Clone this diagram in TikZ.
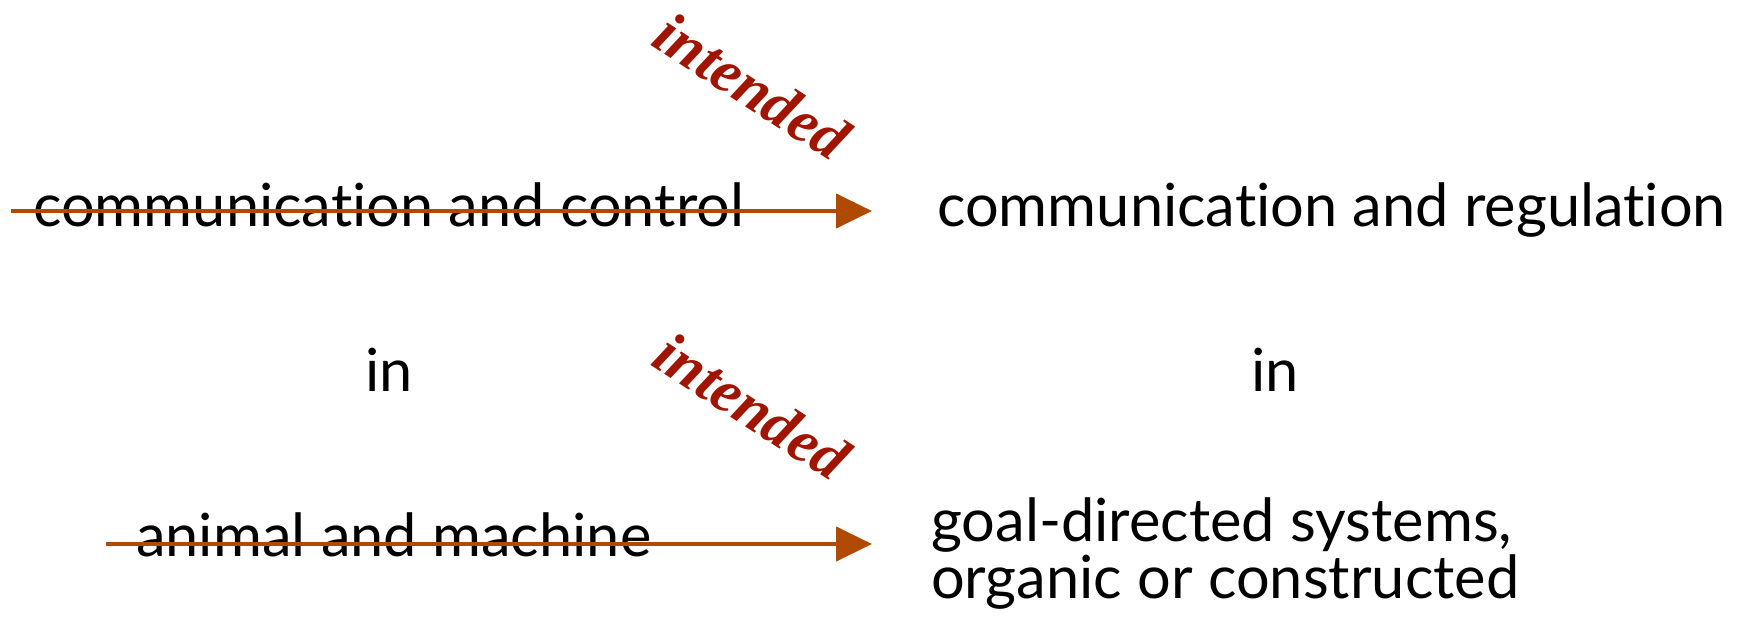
\documentclass[tikz,border=0pt]{standalone}
\usepackage{fontspec}
\setmainfont{Lato}[Ligatures={NoCommon,NoDiscretionary}]
\newfontfamily\notefont{Liberation Serif}
\usetikzlibrary{arrows.meta}
\definecolor{arrowrust}{HTML}{B04A00}
\definecolor{notered}{HTML}{A01400}
\begin{document}
\begin{tikzpicture}[x=1pt,y=-1pt,
  word/.style={inner sep=0pt, anchor=base west, font=\fontsize{59.5}{68}\selectfont},
  note/.style={inner sep=0pt, text=notered, rotate=-33,
    font=\notefont\bfseries\itshape\fontsize{61}{64}\selectfont},
  strike/.style={draw=arrowrust, line width=4.5pt,
    -{Triangle[length=36pt,width=34pt]}}]
\useasboundingbox (0,0) rectangle (1742,617);
% left column: struck-out terms
\node[word] (ctl) at (33,227) {communication and control};
\node[word] (anm) at (136,556) {animal and machine};
\node[word, anchor=base] (inl) at (389,391) {in};
% right column: replacement terms
\node[word] (reg) at (937,227) {communication and regulation};
\node[word, anchor=base] (inr) at (1275,391) {in};
\node[word] (goal) at (931,541) {goal-directed systems,};
\node[word] (org) at (931,598) {organic or constructed};
% annotations
\node[note] (n1) at (752,86) {intended};
\node[note] (n2) at (752,406) {intended};
% strike-through arrows
\coordinate (s1) at (11,211);
\coordinate (e1) at (872,211);
\coordinate (s2) at (106,544);
\coordinate (e2) at (872,544);
\draw[strike] (s1) -- (e1);
\draw[strike] (s2) -- (e2);
\end{tikzpicture}
\end{document}
